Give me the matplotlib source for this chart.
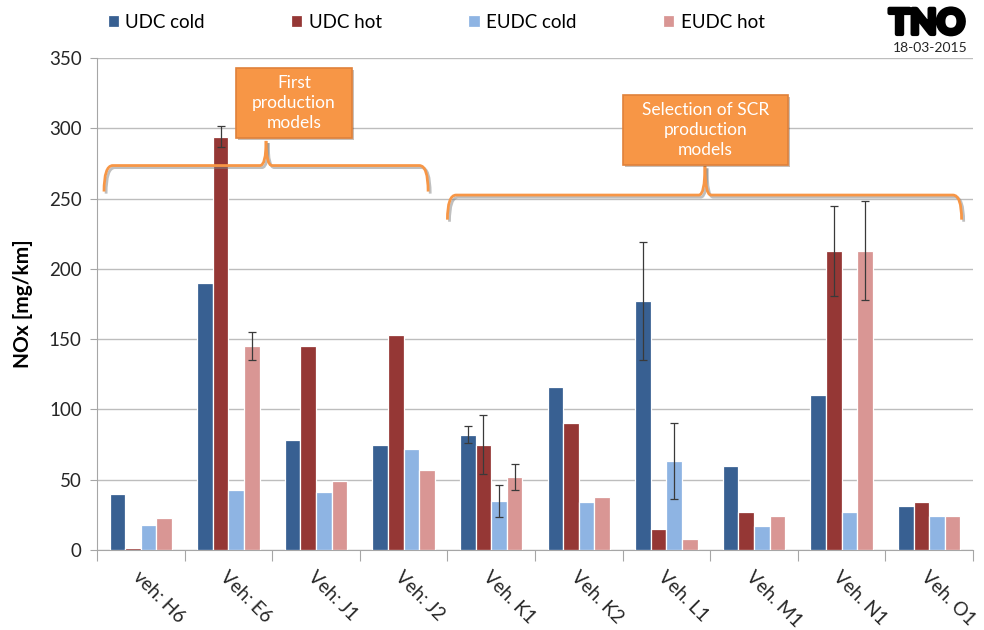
import numpy as np
import matplotlib
matplotlib.use("Agg")
import matplotlib.pyplot as plt
from matplotlib.path import Path
from matplotlib.patches import PathPatch, FancyBboxPatch
import matplotlib.patheffects as pe

plt.rcParams['font.family'] = ['Lato', 'DejaVu Sans']

vehicles = ["veh: H6", "Veh: E6", "Veh: J1", "Veh: J2", "Veh. K1",
            "Veh. K2", "Veh. L1", "Veh. M1", "Veh. N1", "Veh. O1"]
series_names = ["UDC cold", "UDC hot", "EUDC cold", "EUDC hot"]
udc_cold = [40, 190, 78, 75, 82, 116, 177, 60, 110, 31]
udc_hot = [1.5, 294, 145, 153, 75, 90, 15, 27, 213, 34]
eudc_cold = [18, 43, 41, 72, 35, 34, 63, 17, 27, 24]
eudc_hot = [23, 145, 49, 57, 52, 38, 8, 24, 213, 24]
nan = np.nan
udc_cold_err = [nan, nan, nan, nan, 6, nan, 42, nan, nan, nan]
udc_hot_err = [nan, 7.5, nan, nan, 21, nan, nan, nan, 32, nan]
eudc_cold_err = [nan, nan, nan, nan, 11.5, nan, 27, nan, nan, nan]
eudc_hot_err = [nan, 10, nan, nan, 9.5, nan, nan, nan, 35, nan]
yticks = [0, 50, 100, 150, 200, 250, 300, 350]

colors = ["#386092", "#953735", "#8EB4E3", "#D99694"]
values = [udc_cold, udc_hot, eudc_cold, eudc_hot]
errors = [udc_cold_err, udc_hot_err, eudc_cold_err, eudc_hot_err]

fig = plt.figure(figsize=(9.84, 6.3), dpi=100)
ax = fig.add_axes([97/984, 80/630, (973-97)/984, (550-58)/630])

x = np.arange(len(vehicles))
w = 0.178
handles = []
for i, (vals, errs, c, name) in enumerate(zip(values, errors, colors, series_names)):
    pos = x + (i - 1.5) * w
    b = ax.bar(pos, vals, width=w, color=c, edgecolor="white", linewidth=0.9,
               label=name, zorder=3)
    handles.append(b)
    ax.errorbar(pos, vals, yerr=errs, fmt="none", ecolor="#3a3a3a",
                elinewidth=0.9, capsize=3, capthick=0.9, zorder=4)

ax.set_xlim(-0.5, len(vehicles) - 0.5)
ax.set_ylim(0, 350)
ax.set_yticks(yticks)
ax.set_yticklabels([str(t) for t in yticks], fontsize=13.5, color="#262626")
ax.yaxis.grid(True, color="#BDBDBD", linewidth=1.0, zorder=0)
ax.set_axisbelow(True)
for s in ["top", "right"]:
    ax.spines[s].set_visible(False)
for s in ["left", "bottom"]:
    ax.spines[s].set_color("#A6A6A6")
ax.tick_params(axis="y", length=5, color="#A6A6A6", pad=6)
ax.set_xticks(np.arange(-0.5, len(vehicles) + 0.5, 1.0))
ax.set_xticklabels([])
ax.tick_params(axis="x", length=8, color="#A6A6A6", direction="out")
for xi, lab in zip(x, vehicles):
    ax.text(xi - 0.06, -17, lab, rotation=-45, rotation_mode="anchor",
            ha="left", va="center", fontsize=13.5, color="#262626",
            transform=ax.transData, clip_on=False)

ax.set_ylabel("NOx [mg/km]", fontsize=15, fontweight="bold", labelpad=10)
ax.yaxis.set_label_coords(-0.073, 0.5)

# legend
fig.legend(handles=handles, labels=series_names, loc="center left",
           bbox_to_anchor=(100/984, (630-22)/630), ncol=4, frameon=False,
           fontsize=13.5, handlelength=0.6, handleheight=0.6,
           handletextpad=0.35, columnspacing=4.6, borderaxespad=0)

# TNO logo
fig.text(927/984, (630-24)/630, "TNO", fontsize=25, fontweight="black",
         ha="center", va="center",
         path_effects=[pe.withStroke(linewidth=3, foreground="black")])
fig.text(930/984, (630-48)/630, "18-03-2015", fontsize=10, ha="center",
         va="center", color="#262626")


def brace(ax, x0, x1, xm, yh, yend, ypeak):
    rx = 0.1
    style = dict(facecolor="none", edgecolor="#F79646", linewidth=2.0,
                 zorder=6, clip_on=False,
                 path_effects=[pe.SimpleLineShadow(offset=(1.5, -1.5),
                                                   shadow_color="gray", alpha=0.5),
                               pe.Normal()])
    left = Path([(x0, yend), (x0, yh), (x0 + rx, yh), (xm - rx * 0.7, yh),
                 (xm, yh), (xm, ypeak)],
                [Path.MOVETO, Path.CURVE3, Path.CURVE3, Path.LINETO,
                 Path.CURVE3, Path.CURVE3])
    right = Path([(xm, ypeak), (xm, yh), (xm + rx * 0.7, yh), (x1 - rx, yh),
                  (x1, yh), (x1, yend)],
                 [Path.MOVETO, Path.CURVE3, Path.CURVE3, Path.LINETO,
                  Path.CURVE3, Path.CURVE3])
    ax.add_patch(PathPatch(left, **style))
    ax.add_patch(PathPatch(right, **style))


brace(ax, -0.42, 3.28, 1.43, 273.5, 255, 291)
brace(ax, 3.5, 9.37, 6.44, 252.5, 235, 273)


def box(ax, x0, x1, y0, y1, lines):
    p = FancyBboxPatch((x0, y0), x1 - x0, y1 - y0, boxstyle="square,pad=0",
                       facecolor="#F79646", edgecolor="#E0813A", linewidth=1.2,
                       zorder=7, clip_on=False,
                       path_effects=[pe.SimplePatchShadow(offset=(1.5, -1.5),
                                                          alpha=0.3), pe.Normal()])
    ax.add_patch(p)
    ax.text((x0 + x1) / 2, (y0 + y1) / 2, "\n".join(lines), ha="center",
            va="center", color="white", fontsize=12.5, linespacing=1.3, zorder=8)


box(ax, 1.09, 2.41, 293, 342.8, ["First", "production", "models"])
box(ax, 5.5, 7.39, 273.8, 323.6, ["Selection of SCR", "production", "models"])

fig.savefig("out.png", dpi=100)
